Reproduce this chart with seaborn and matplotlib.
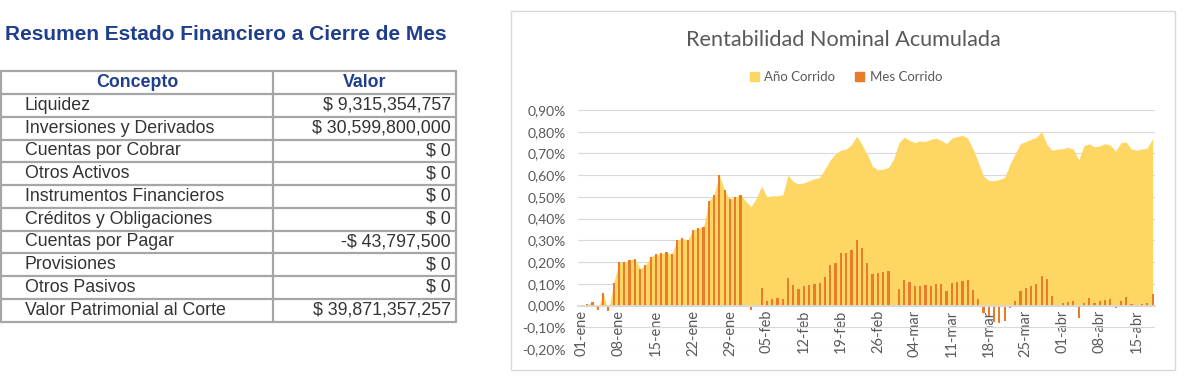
import numpy as np
import pandas as pd
import matplotlib.pyplot as plt
import seaborn as sns
from matplotlib.patches import Patch, Rectangle
#
# Datos de la tabla resumen:
conceptos = ['Liquidez', 'Inversiones y Derivados', 'Cuentas por Cobrar', 'Otros Activos',
             'Instrumentos Financieros', 'Créditos y Obligaciones', 'Cuentas por Pagar',
             'Provisiones', 'Otros Pasivos', 'Valor Patrimonial al Corte']
valores = ['$ 9,315,354,757', '$ 30,599,800,000', '$ 0', '$ 0', '$ 0', '$ 0',
           '-$ 43,797,500', '$ 0', '$ 0', '$ 39,871,357,257']
#
# Serie diaria 01-ene a 18-abr (en %):
fechas = pd.date_range('2020-01-01', '2020-04-18', freq='D')
meses_es = {1: 'ene', 2: 'feb', 3: 'mar', 4: 'abr'}
mes_corrido = [
    # enero
    0.003, 0.005, 0.015, -0.02, 0.058, -0.025, 0.104, 0.199, 0.20, 0.21, 0.215, 0.17, 0.185,
    0.225, 0.235, 0.24, 0.245, 0.235, 0.30, 0.31, 0.30, 0.35, 0.355, 0.36, 0.48, 0.51, 0.60,
    0.53, 0.49, 0.50, 0.51,
    # febrero
    0.0, -0.02, 0.0, 0.08, 0.02, 0.03, 0.035, 0.03, 0.125, 0.095, 0.075, 0.09, 0.095, 0.10,
    0.105, 0.13, 0.185, 0.195, 0.24, 0.24, 0.255, 0.30, 0.265, 0.195, 0.147, 0.15, 0.155,
    0.16, 0.0,
    # marzo
    0.075, 0.116, 0.107, 0.09, 0.092, 0.096, 0.09, 0.10, 0.10, 0.066, 0.104, 0.109, 0.115,
    0.119, 0.07, 0.028, -0.034, -0.05, -0.075, -0.08, -0.07, -0.01, 0.02, 0.066, 0.08, 0.092,
    0.10, 0.135, 0.12, 0.046, 0.0,
    # abril
    0.01, 0.015, 0.02, -0.057, 0.01, 0.035, 0.01, 0.02, 0.025, 0.028, -0.01, 0.023, 0.04,
    0.008, 0.002, 0.008, 0.01, 0.055,
]
ano_corrido = mes_corrido[:31] + [
    # febrero
    0.48, 0.455, 0.495, 0.55, 0.50, 0.505, 0.505, 0.51, 0.60, 0.57, 0.56, 0.565, 0.575, 0.583,
    0.59, 0.63, 0.67, 0.70, 0.715, 0.72, 0.74, 0.78, 0.74, 0.695, 0.64, 0.625, 0.628, 0.635,
    0.675,
    # marzo
    0.75, 0.775, 0.76, 0.75, 0.758, 0.755, 0.765, 0.77, 0.76, 0.745, 0.77, 0.778, 0.783,
    0.77, 0.72, 0.66, 0.595, 0.575, 0.575, 0.58, 0.59, 0.65, 0.70, 0.745, 0.755, 0.765,
    0.775, 0.80, 0.74, 0.715, 0.72,
    # abril
    0.722, 0.728, 0.72, 0.67, 0.735, 0.745, 0.73, 0.735, 0.745, 0.738, 0.71, 0.75, 0.752,
    0.72, 0.715, 0.72, 0.725, 0.77,
]
etiquetas = [f"{f.day:02d}-{meses_es[f.month]}" for f in fechas]
df = pd.DataFrame({'dia': range(len(fechas)), 'mes': mes_corrido, 'ano': ano_corrido})
#
amarillo = '#FDD663'
naranja = '#E97C2A'
gris = '#595959'
azul = '#1F3F8C'
#
sns.set_theme(style='white')
plt.rcParams['font.family'] = ['Lato', 'DejaVu Sans']
#
fig = plt.figure(figsize=(12, 3.86), dpi=100, facecolor='white')
# Lienzo de fondo en pixeles para la tabla y el marco del grafico
bg = fig.add_axes([0, 0, 1, 1])
bg.set_xlim(0, 1200)
bg.set_ylim(386, 0)
bg.axis('off')
#
# Tabla
arial = ['Liberation Sans', 'DejaVu Sans']
bg.text(5, 35, 'Resumen Estado Financiero a Cierre de Mes', fontsize=15, fontweight='bold',
        color=azul, ha='left', va='center', family=arial)
top, header_bottom, row_h = 71, 94, 22.75
line_kw = dict(color='#A6A6A6', lw=1.6)
bg.plot([1, 456], [top, top], **line_kw)
for i in range(len(conceptos) + 1):
    y = header_bottom + i * row_h
    bg.plot([1, 456], [y, y], **line_kw)
bottom = header_bottom + len(conceptos) * row_h
for x in [1, 273, 456]:
    bg.plot([x, x], [top, bottom], **line_kw)
bg.text(137, (top + header_bottom) / 2, 'Concepto', fontsize=12.8, fontweight='bold', color=azul,
        ha='center', va='center', family=arial)
bg.text(365, (top + header_bottom) / 2, 'Valor', fontsize=12.8, fontweight='bold', color=azul,
        ha='center', va='center', family=arial)
for i, (c, v) in enumerate(zip(conceptos, valores)):
    y = header_bottom + (i + 0.5) * row_h
    bg.text(25, y, c, fontsize=12.8, color='#333333', ha='left', va='center', family=arial)
    bg.text(451, y, v, fontsize=12.8, color='#333333', ha='right', va='center', family=arial)
#
# Marco del grafico
bg.add_patch(Rectangle((511, 11), 664, 359, facecolor='white', edgecolor='#D9D9D9', lw=1))
bg.text(843, 40, 'Rentabilidad Nominal Acumulada', fontsize=15.6, color=gris, ha='center', va='center')
fig.legend(handles=[Patch(color=amarillo, label='Año Corrido'), Patch(color=naranja, label='Mes Corrido')],
           loc='center', bbox_to_anchor=(846 / 1200, 1 - 77 / 386), ncol=2, frameon=False,
           handlelength=0.7, handleheight=0.7, handletextpad=0.4, columnspacing=1.5,
           fontsize=9.5, labelcolor=gris)
#
# Grafico de area + barras
ax = fig.add_axes([578 / 1200, (386 - 349) / 386, 577 / 1200, 239 / 386])
ax.patch.set_alpha(0)
ax.fill_between(df['dia'], df['ano'], color=amarillo, lw=0, zorder=1)
sns.barplot(data=df, x='dia', y='mes', orient='x', color=naranja, saturation=1, width=0.42,
            errorbar=None, linewidth=0, edgecolor='none', ax=ax, zorder=2)
ax.set_xlim(-0.75, 108.45)
ax.set_ylim(-0.2, 0.9)
yt = np.round(np.arange(-0.2, 0.91, 0.1), 2)
ax.set_yticks(yt)
ax.set_yticklabels([f"{v:.2f}%".replace('.', ',') for v in yt])
ax.set_xticks(range(0, len(etiquetas), 7))
ax.set_xticklabels(etiquetas[::7])
ax.yaxis.grid(True, color='#D9D9D9', lw=0.8)
ax.set_axisbelow(True)
for s in ['top', 'right', 'left']:
    ax.spines[s].set_visible(False)
ax.spines['bottom'].set_position(('data', 0))
ax.spines['bottom'].set_color('#D9D9D9')
ax.tick_params(axis='both', length=0, labelsize=10, colors=gris)
ax.tick_params(axis='x', pad=3, labelrotation=90, labelsize=10.5)
ax.tick_params(axis='y', pad=9)
ax.set_xlabel('')
ax.set_ylabel('')
#
fig.savefig('out.png', dpi=100)
